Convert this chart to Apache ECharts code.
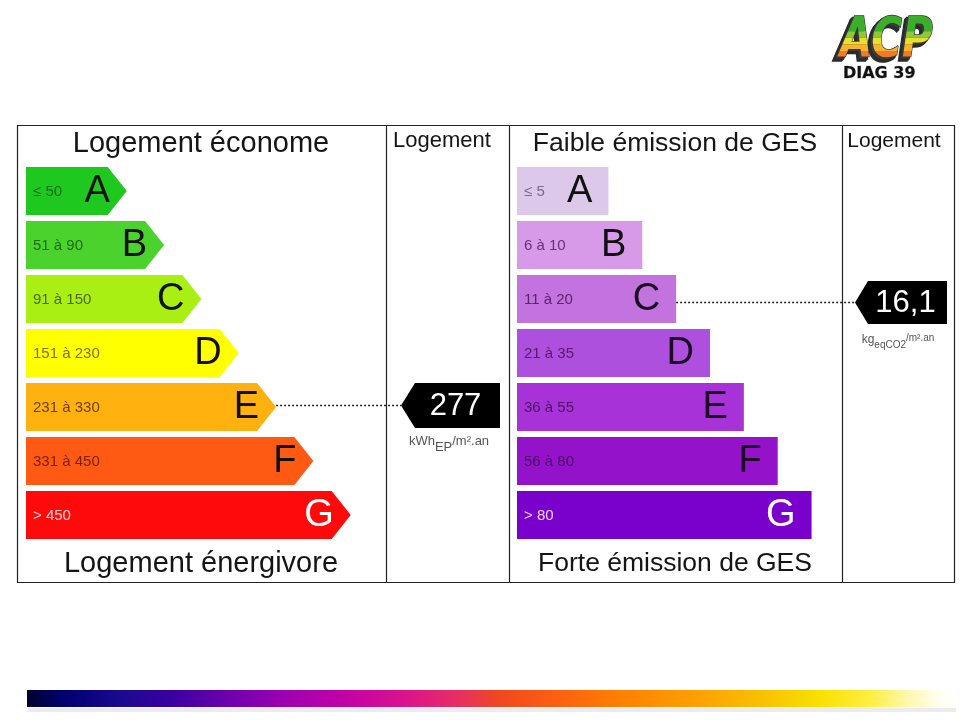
<!DOCTYPE html>
<html>
<head>
<meta charset="utf-8">
<script src="https://cdn.jsdelivr.net/npm/echarts@6/dist/echarts.min.js"></script>
<style>html,body{margin:0;padding:0;background:#fff}#c{width:960px;height:720px}</style>
</head>
<body>
<div id="c"></div>
<script>
// ---- Data ----
const energyClasses = ['A', 'B', 'C', 'D', 'E', 'F', 'G'];
const energyRanges = ['≤ 50', '51 à 90', '91 à 150', '151 à 230', '231 à 330', '331 à 450', '> 450'];
const energyBarLength = [1, 2, 3, 4, 5, 6, 7];
const energyValue = '277';
const energyValueClass = 'E';
const energyUnit = ['kWh', 'EP', '/m².an'];

const gesClasses = ['A', 'B', 'C', 'D', 'E', 'F', 'G'];
const gesRanges = ['≤ 5', '6 à 10', '11 à 20', '21 à 35', '36 à 55', '56 à 80', '> 80'];
const gesBarLength = [1, 2, 3, 4, 5, 6, 7];
const gesValue = '16,1';
const gesValueClass = 'C';
const gesUnit = ['kg', 'eqCO2', '/m².an'];

const titles = {
  energyTop: 'Logement économe',
  energyBottom: 'Logement énergivore',
  gesTop: 'Faible émission de GES',
  gesBottom: 'Forte émission de GES',
  column: 'Logement'
};
const logoText = 'ACP';
const logoSubText = 'DIAG 39';

// ---- Styles ----
const energyColors = ['#1fc81f', '#4cd22d', '#aaef14', '#ffff00', '#ffb20f', '#ff5a14', '#ff0a0a'];
const energyRangeColors = ['#0e6e0e', '#1b6e12', '#4f6a0a', '#7d7400', '#6e4200', '#7a2200', '#ffd6d6'];
const energyLetterColors = ['#111', '#111', '#111', '#111', '#111', '#111', '#ffffff'];
const gesColors = ['#dcc8e8', '#d69ae8', '#c273dd', '#ae50de', '#a733d8', '#9312ca', '#7a00cc'];
const gesRangeColors = ['#7a6a8a', '#6a2e80', '#5e2272', '#561a6c', '#4e1266', '#4a0a66', '#f4d8ff'];
const gesLetterColors = ['#111', '#111', '#1a0a22', '#1a0a22', '#1a0a22', '#1a0a22', '#ffffff'];
const logoBands = [
  { y0: -20, y1: 13, color: '#3cae2c' },
  { y0: 13, y1: 18, color: '#8cc83a' },
  { y0: 18, y1: 23, color: '#e8e02c' },
  { y0: 23, y1: 28, color: '#f6b42a' },
  { y0: 28, y1: 33, color: '#f07a2a' },
  { y0: 33, y1: 80, color: '#e0302a' }
];

const FONT = '"Liberation Sans", Arial, sans-serif';
const LOGO_FONT = 'italic bold 42px "DejaVu Sans", sans-serif';
const X_MIN = -1.7;

function makeBarRenderer(isArrow, ranges, colors, rangeColors, letterColors, classes) {
  return function (params, api) {
    const i = params.dataIndex;
    const end = api.coord([api.value(0), api.value(1)]);
    const start = api.coord([X_MIN, api.value(1)]);
    const h = api.size([0, 1])[1] * 0.89;
    const yc = end[1];
    const y0 = yc - h / 2, y1 = yc + h / 2;
    let shape;
    let letterRight;
    if (isArrow) {
      const d = 19;
      shape = {
        type: 'polygon',
        shape: { points: [[start[0], y0], [end[0] - d, y0], [end[0], yc], [end[0] - d, y1], [start[0], y1]] },
        style: { fill: colors[i] }
      };
      letterRight = end[0] - 17;
    } else {
      shape = {
        type: 'rect',
        shape: { x: start[0], y: y0, width: end[0] - start[0], height: h },
        style: { fill: colors[i] }
      };
      letterRight = end[0] - 16;
    }
    return {
      type: 'group',
      children: [
        shape,
        {
          type: 'text',
          style: {
            text: ranges[i], x: start[0] + 7, y: yc + 1,
            textAlign: 'left', align: 'left', textVerticalAlign: 'middle', verticalAlign: 'middle',
            font: '15px ' + FONT, fill: rangeColors[i]
          }
        },
        {
          type: 'text',
          style: {
            text: classes[i], x: letterRight, y: yc + 1,
            textAlign: 'right', align: 'right', textVerticalAlign: 'middle', verticalAlign: 'middle',
            font: '38px ' + FONT, fill: letterColors[i]
          }
        }
      ]
    };
  };
}

function makeMarkerRenderer(valueText, unit, cfg) {
  return function (params, api) {
    const barTip = api.coord([api.value(0), api.value(1)]);
    const cs = params.coordSys;
    const right = cs.x + cs.width;
    const tip = right - cfg.width;
    const bodyStart = tip + cfg.depth;
    const yc = barTip[1] + cfg.dy;
    const h = cfg.height;
    return {
      type: 'group',
      children: [
        {
          type: 'line',
          shape: { x1: barTip[0], y1: yc, x2: tip, y2: yc },
          style: { stroke: '#222', lineWidth: 1.3, lineDash: [2, 2] }
        },
        {
          type: 'polygon',
          shape: { points: [[tip, yc], [bodyStart, yc - h / 2], [right, yc - h / 2], [right, yc + h / 2], [bodyStart, yc + h / 2]] },
          style: { fill: '#000' }
        },
        {
          type: 'text',
          style: {
            text: valueText, x: (bodyStart + right) / 2 - 2, y: yc + 1,
            textAlign: 'center', align: 'center', textVerticalAlign: 'middle', verticalAlign: 'middle',
            font: '31px ' + FONT, fill: '#fff'
          }
        },
        {
          type: 'text',
          style: {
            text: '{a|' + unit[0] + '}{b|' + unit[1] + '}{c|' + unit[2] + '}',
            x: cfg.unitX, y: yc + h / 2 + cfg.unitDy,
            textAlign: 'center', align: 'center', textVerticalAlign: 'middle', verticalAlign: 'middle',
            rich: cfg.rich
          }
        }
      ]
    };
  };
}

function renderLogo(params, api) {
  const ox = 840, oy = 14;
  const children = [];
  [[-4, 4], [-3, 3], [-2, 2]].forEach(function (o) {
    children.push({
      type: 'text', x: ox + o[0], y: oy + o[1], scaleY: 1.32,
      style: { text: logoText, x: 0, y: 0, textAlign: 'left', align: 'left', textVerticalAlign: 'top', verticalAlign: 'top', font: LOGO_FONT, fill: '#3c3c3c', stroke: '#2a2a2a', lineWidth: 2 }
    });
  });
  logoBands.forEach(function (b) {
    children.push({
      type: 'text', x: ox, y: oy, scaleY: 1.32,
      style: { text: logoText, x: 0, y: 0, textAlign: 'left', align: 'left', textVerticalAlign: 'top', verticalAlign: 'top', font: LOGO_FONT, fill: b.color, stroke: '#333', lineWidth: 1.2 },
      clipPath: { type: 'rect', shape: { x: -20, y: b.y0, width: 200, height: b.y1 - b.y0 } }
    });
  });
  children.push({
    type: 'text', x: ox + 3, y: oy + 52,
    style: { text: logoSubText, x: 0, y: 0, textAlign: 'left', align: 'left', textVerticalAlign: 'top', verticalAlign: 'top', font: 'bold 16px "DejaVu Sans", sans-serif', fill: '#111', stroke: '#c8c8c8', lineWidth: 1 }
  });
  return { type: 'group', children: children };
}

const chart = echarts.init(document.getElementById('c'), null, { renderer: 'canvas' });

const eIdx = energyClasses.indexOf(energyValueClass);
const gIdx = gesClasses.indexOf(gesValueClass);

const bandGradient = new echarts.graphic.LinearGradient(0, 0, 1, 0, [
  { offset: 0.0, color: '#000030' },
  { offset: 0.04, color: '#000070' },
  { offset: 0.10, color: '#1a0a90' },
  { offset: 0.155, color: '#3a00a0' },
  { offset: 0.22, color: '#7000b0' },
  { offset: 0.28, color: '#a000b0' },
  { offset: 0.335, color: '#c000a8' },
  { offset: 0.40, color: '#d81090' },
  { offset: 0.465, color: '#e83060' },
  { offset: 0.508, color: '#f04820' },
  { offset: 0.57, color: '#ff6010' },
  { offset: 0.637, color: '#ff8000' },
  { offset: 0.72, color: '#ffa000' },
  { offset: 0.787, color: '#f8c000' },
  { offset: 0.85, color: '#f8e000' },
  { offset: 0.905, color: '#ffee40' },
  { offset: 0.947, color: '#fff8b0' },
  { offset: 0.98, color: '#fffff0' },
  { offset: 1, color: '#ffffff' }
]);

const option = {
  animation: false,
  backgroundColor: '#ffffff',
  grid: [
    { left: 26, top: 164, width: 474, height: 378 },
    { left: 517, top: 164, width: 430, height: 378 }
  ],
  xAxis: [
    { type: 'value', gridIndex: 0, min: X_MIN, max: 11, show: false },
    { type: 'value', gridIndex: 1, min: X_MIN, max: 11, show: false }
  ],
  yAxis: [
    { type: 'category', gridIndex: 0, data: energyClasses, inverse: true, show: false },
    { type: 'category', gridIndex: 1, data: gesClasses, inverse: true, show: false }
  ],
  series: [
    {
      type: 'custom', xAxisIndex: 0, yAxisIndex: 0, encode: { x: 0, y: 1 },
      data: energyBarLength.map((v, i) => [v, i]),
      renderItem: makeBarRenderer(true, energyRanges, energyColors, energyRangeColors, energyLetterColors, energyClasses),
      z: 2
    },
    {
      type: 'custom', xAxisIndex: 1, yAxisIndex: 1, encode: { x: 0, y: 1 },
      data: gesBarLength.map((v, i) => [v, i]),
      renderItem: makeBarRenderer(false, gesRanges, gesColors, gesRangeColors, gesLetterColors, gesClasses),
      z: 2
    },
    {
      type: 'custom', xAxisIndex: 0, yAxisIndex: 0, encode: { x: 0, y: 1 },
      data: [[energyBarLength[eIdx], eIdx]],
      renderItem: makeMarkerRenderer(energyValue, energyUnit, {
        width: 99, depth: 14, height: 45, dy: -1.5, unitX: 449, unitDy: 13,
        rich: {
          a: { font: '13px ' + FONT, fill: '#555', color: '#555' },
          b: { font: '13px ' + FONT, fill: '#555', color: '#555', padding: [12, 0, 0, 0] },
          c: { font: '13px ' + FONT, fill: '#555', color: '#555' }
        }
      }),
      z: 3
    },
    {
      type: 'custom', xAxisIndex: 1, yAxisIndex: 1, encode: { x: 0, y: 1 },
      data: [[gesBarLength[gIdx], gIdx]],
      renderItem: makeMarkerRenderer(gesValue, gesUnit, {
        width: 92, depth: 13, height: 43, dy: 3.5, unitX: 898, unitDy: 16,
        rich: {
          a: { font: '12px ' + FONT, fill: '#555', color: '#555' },
          b: { font: '10px ' + FONT, fill: '#555', color: '#555', padding: [10, 0, 0, 0] },
          c: { font: '10px ' + FONT, fill: '#555', color: '#555', padding: [0, 0, 4, 0] }
        }
      }),
      z: 3
    },
    {
      type: 'custom', coordinateSystem: 'none', data: [[0]], silent: true, z: 20,
      renderItem: renderLogo
    }
  ],
  graphic: [
    { type: 'rect', shape: { x: 17.5, y: 125.5, width: 937, height: 457 }, style: { fill: null, stroke: '#222', lineWidth: 1.2 }, z: 10 },
    { type: 'line', shape: { x1: 386.5, y1: 125.5, x2: 386.5, y2: 582.5 }, style: { stroke: '#222', lineWidth: 1.2 }, z: 10 },
    { type: 'line', shape: { x1: 509.5, y1: 125.5, x2: 509.5, y2: 582.5 }, style: { stroke: '#222', lineWidth: 1.2 }, z: 10 },
    { type: 'line', shape: { x1: 842.5, y1: 125.5, x2: 842.5, y2: 582.5 }, style: { stroke: '#222', lineWidth: 1.2 }, z: 10 },
    { type: 'text', style: { text: titles.energyTop, x: 201, y: 144, textAlign: 'center', align: 'center', textVerticalAlign: 'middle', verticalAlign: 'middle', font: '29px ' + FONT, fill: '#151515' }, z: 10 },
    { type: 'text', style: { text: titles.energyBottom, x: 201, y: 564, textAlign: 'center', align: 'center', textVerticalAlign: 'middle', verticalAlign: 'middle', font: '29px ' + FONT, fill: '#151515' }, z: 10 },
    { type: 'text', style: { text: titles.gesTop, x: 675, y: 144, textAlign: 'center', align: 'center', textVerticalAlign: 'middle', verticalAlign: 'middle', font: '26.5px ' + FONT, fill: '#151515' }, z: 10 },
    { type: 'text', style: { text: titles.gesBottom, x: 675, y: 564, textAlign: 'center', align: 'center', textVerticalAlign: 'middle', verticalAlign: 'middle', font: '26.5px ' + FONT, fill: '#151515' }, z: 10 },
    { type: 'text', style: { text: titles.column, x: 442, y: 141, textAlign: 'center', align: 'center', textVerticalAlign: 'middle', verticalAlign: 'middle', font: '22px ' + FONT, fill: '#151515' }, z: 10 },
    { type: 'text', style: { text: titles.column, x: 894, y: 141, textAlign: 'center', align: 'center', textVerticalAlign: 'middle', verticalAlign: 'middle', font: '21px ' + FONT, fill: '#151515' }, z: 10 },
    { type: 'rect', shape: { x: 28, y: 708, width: 928, height: 4 }, style: { fill: '#ececf0' }, z: 5 },
    { type: 'rect', shape: { x: 27, y: 690, width: 931, height: 17 }, style: { fill: bandGradient }, z: 6 }
  ]
};

chart.setOption(option);
</script>
</body>
</html>
